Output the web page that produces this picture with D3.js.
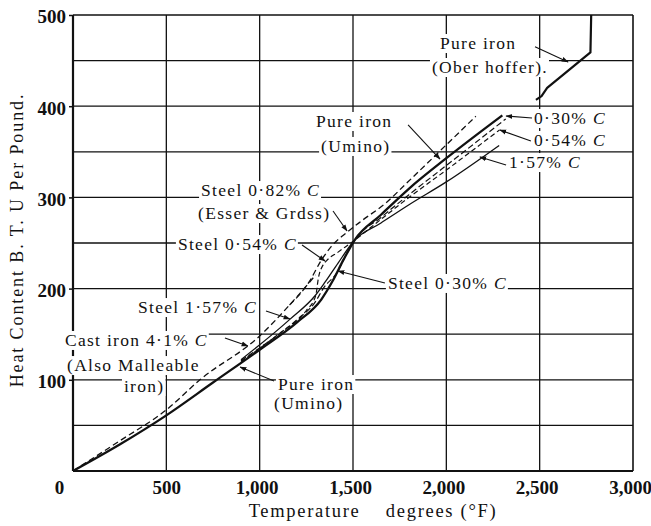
<!DOCTYPE html>
<html>
<head>
<meta charset="utf-8">
<script src="https://cdn.jsdelivr.net/npm/d3@7"></script>
<style>
  body { margin: 0; background: #fff; }
  svg { display: block; font-family: "Liberation Serif", "DejaVu Serif", serif; }
</style>
</head>
<body>
<svg id="chart" width="651" height="526"></svg>
<script>
// values: temperature (°F) vs heat content (B.T.U. per pound)
const xTicks = [0, 500, 1000, 1500, 2000, 2500, 3000];
const yTicks = [100, 200, 300, 400, 500];
const gridX = [500, 1000, 1500, 2000, 2500];
const gridY = [50, 100, 150, 200, 250, 300, 350, 400, 450];

const pureIronUmino = [[0,0],[250,29],[500,61],[750,97],[1000,133],[1200,163],[1330,188],[1390,208],
  [1450,232],[1508,253],[1650,281],[1802,310],[2000,343],[2300,390]];
const pureIronOberhoffer = [[2480,407],[2510,411],[2540,420],[2772,459],[2776,500]];
const steel030 = [[900,121],[1000,135],[1200,166],[1300,186],[1340,200],[1419,219],[1470,240],[1508,253],
  [1650,278],[1800,303],[2000,335],[2318,386]];
const steel054 = [[900,120],[1100,150],[1250,176],[1300,192],[1315,212],[1340,226],[1360,231],[1420,240],
  [1508,253],[1650,276],[1800,300],[2000,330],[2285,374]];
const steel157 = [[900,122],[1160,166],[1300,193],[1350,207],[1420,228],[1508,253],[1650,272],[1800,292],
  [2000,317],[2283,357]];
const steel082 = [[1160,182],[1267,208],[1330,231],[1383,246],[1463,261],[1551,275],[1677,294],[1784,315],[2158,389]];
const castIron = [[0,0],[250,33],[500,67],[680,100],[1000,148],[1160,182],[1267,207],[1300,215]];

const series = [
  { data: castIron, dash: "6,3.5", width: 1.3 },
  { data: steel082, dash: "6,3.5", width: 1.3 },
  { data: steel030, dash: "6,3", width: 1.2 },
  { data: steel054, dash: "5,3", width: 1.2 },
  { data: steel157, dash: null, width: 1.3 },
  { data: pureIronUmino, dash: null, width: 2.3 },
  { data: pureIronOberhoffer, dash: null, width: 2.2, linear: true }
];

// labels: [T, heat] of the left end of the baseline
const labels = [
  { t: "Pure iron", at: [1966, 462.7] },
  { t: "(Ober hoffer).", at: [1923, 436.4] },
  { t: "Pure iron", at: [1302, 377.2] },
  { t: "(Umino)", at: [1329, 349.8] },
  { t: "0·30% ", c: true, at: [2470, 380.5] },
  { t: "0·54% ", c: true, at: [2470, 356.4] },
  { t: "1·57% ", c: true, at: [2336, 332.2] },
  { t: "Steel 0·82% ", c: true, at: [686, 301.5] },
  { t: "(Esser & Grdss)", at: [670, 276.3] },
  { t: "Steel 0·54% ", c: true, at: [562, 242.3] },
  { t: "Steel 0·30% ", c: true, at: [1687, 199.6] },
  { t: "Steel 1·57% ", c: true, at: [348, 173.2] },
  { t: "Cast iron 4·1% ", c: true, at: [-43, 137.1] },
  { t: "(Also Malleable", at: [-32, 109.6] },
  { t: "iron)", at: [273, 86.6] },
  { t: "Pure iron", at: [1098, 88.8] },
  { t: "(Umino)", at: [1077, 68] }
];

// leader lines, arrow at the second point
const leaders = [
  [[2475,465.2],[2652,448.5]],
  [[1795,379.4],[1966,342.1]],
  [[2459,387.1],[2320,389.3]],
  [[2453,361.8],[2287,373.9]],
  [[2320,335.5],[2180,344.3]],
  [[1393,285.1],[1468,263.2]],
  [[1227,247.8],[1350,230.3]],
  [[1671,206.1],[1420,219.3]],
  [[1034,175.4],[1162,166.7]],
  [[814,145.8],[937,137.1]],
  [[1077,98.7],[895,114.0]]
];

const svg = d3.select("#chart");
const x = d3.scaleLinear().domain([0, 3000]).range([73, 633]);
const y = d3.scaleLinear().domain([0, 500]).range([471, 15]);

svg.append("defs").append("marker")
    .attr("id", "arrow")
    .attr("viewBox", "0 0 10 10")
    .attr("refX", 9).attr("refY", 5)
    .attr("markerWidth", 7).attr("markerHeight", 7)
    .attr("markerUnits", "userSpaceOnUse")
    .attr("orient", "auto")
  .append("path")
    .attr("d", "M0,1.5 L10,5 L0,8.5 Z")
    .attr("fill", "#111");

// grid
const grid = svg.append("g").attr("stroke", "#111");
grid.selectAll(".gy").data(gridY).enter().append("line")
    .attr("x1", x(0)).attr("x2", x(3000))
    .attr("y1", d => y(d)).attr("y2", d => y(d))
    .attr("stroke-width", 1.3);
grid.selectAll(".gx").data(gridX).enter().append("line")
    .attr("y1", y(0)).attr("y2", y(500))
    .attr("x1", d => x(d)).attr("x2", d => x(d))
    .attr("stroke-width", 1.3);

// frame
grid.append("line").attr("x1", x(0)).attr("x2", x(3000)).attr("y1", y(500)).attr("y2", y(500)).attr("stroke-width", 1.6);
grid.append("line").attr("x1", x(3000)).attr("x2", x(3000)).attr("y1", y(0)).attr("y2", y(500)).attr("stroke-width", 1.6);
grid.append("line").attr("x1", x(0)).attr("x2", x(0)).attr("y1", y(0)).attr("y2", y(500)).attr("stroke-width", 2.2);
grid.append("line").attr("x1", x(0)).attr("x2", x(3000)).attr("y1", y(0)).attr("y2", y(0)).attr("stroke-width", 2.2);

// labels on white patches that cut the grid, like the print
const lab = svg.append("g")
    .attr("font-size", 17.5)
    .attr("letter-spacing", 1.3)
    .attr("fill", "#111");
labels.forEach(l => {
  const g = lab.append("g");
  const t = g.append("text")
      .attr("x", x(l.at[0])).attr("y", y(l.at[1]))
      .text(l.t);
  if (l.c) t.append("tspan").attr("font-style", "italic").text("C");
  const b = t.node().getBBox();
  g.insert("rect", "text")
      .attr("x", b.x - 2).attr("y", b.y + 1)
      .attr("width", b.width + 3).attr("height", b.height - 1)
      .attr("fill", "#fff");
});

// curves
series.forEach(s => {
  const line = d3.line()
      .x(d => x(d[0])).y(d => y(d[1]))
      .curve(s.linear ? d3.curveLinear : d3.curveMonotoneX);
  svg.append("path")
      .attr("d", line(s.data))
      .attr("fill", "none")
      .attr("stroke", "#111")
      .attr("stroke-width", s.width)
      .attr("stroke-dasharray", s.dash)
      .attr("stroke-linejoin", "round");
});

svg.append("g").selectAll("line").data(leaders).enter().append("line")
    .attr("x1", d => x(d[0][0])).attr("y1", d => y(d[0][1]))
    .attr("x2", d => x(d[1][0])).attr("y2", d => y(d[1][1]))
    .attr("stroke", "#111").attr("stroke-width", 1.1)
    .attr("marker-end", "url(#arrow)");

// axes
const yAxis = svg.append("g")
    .attr("transform", `translate(${x(0)},0)`)
    .call(d3.axisLeft(y).tickValues(yTicks).tickSize(4).tickPadding(3));
const xAxis = svg.append("g")
    .attr("transform", `translate(0,${y(0)})`)
    .call(d3.axisBottom(x).tickValues(xTicks).tickSize(0).tickPadding(10)
      .tickFormat(d3.format(",")));
[yAxis, xAxis].forEach(a => {
  a.select(".domain").remove();
  a.selectAll("text")
      .attr("font-family", "Liberation Serif, serif")
      .attr("font-weight", "bold")
      .attr("font-size", 19)
      .attr("fill", "#111");
  a.selectAll("line").attr("stroke", "#111").attr("stroke-width", 1.5);
});
yAxis.selectAll(".tick text").attr("dy", "0.42em");
xAxis.selectAll(".tick text").attr("dx", d => d === 0 ? -14 : (d >= 1000 ? -3 : 0));

svg.append("text")
    .attr("x", 373).attr("y", 517)
    .attr("text-anchor", "middle")
    .attr("font-size", 18.5).attr("letter-spacing", 1.7)
    .attr("fill", "#111")
    .attr("xml:space", "preserve")
    .text("Temperature    degrees (°F)");

svg.append("text")
    .attr("transform", "translate(23,240) rotate(-90)")
    .attr("text-anchor", "middle")
    .attr("font-size", 18).attr("letter-spacing", 1.9)
    .attr("fill", "#111")
    .text("Heat Content B. T. U Per Pound.");
</script>
</body>
</html>
